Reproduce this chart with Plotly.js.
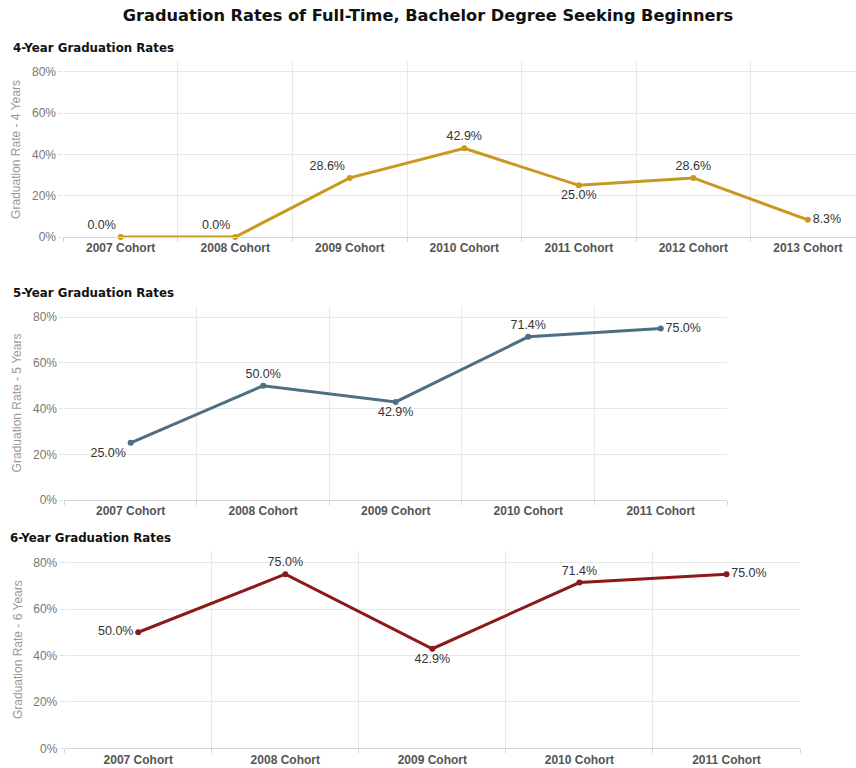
<!DOCTYPE html>
<html>
<head>
<meta charset="utf-8">
<script src="https://cdn.plot.ly/plotly-3.0.1.min.js"></script>
<style>html,body{margin:0;padding:0;background:#fff;}#chart{width:856px;height:768px;}</style>
</head>
<body>
<div id="chart"></div>
<script>
// ---- data ----
var cohorts4 = ["2007 Cohort","2008 Cohort","2009 Cohort","2010 Cohort","2011 Cohort","2012 Cohort","2013 Cohort"];
var rates4 = [0.0, 0.0, 28.6, 42.9, 25.0, 28.6, 8.3];
var cohorts5 = ["2007 Cohort","2008 Cohort","2009 Cohort","2010 Cohort","2011 Cohort"];
var rates5 = [25.0, 50.0, 42.9, 71.4, 75.0];
var cohorts6 = ["2007 Cohort","2008 Cohort","2009 Cohort","2010 Cohort","2011 Cohort"];
var rates6 = [50.0, 75.0, 42.9, 71.4, 75.0];
var yTickVals = [0, 20, 40, 60, 80];
var yTickText = ["0%", "20%", "40%", "60%", "80%"];

// ---- styles ----
var pos4 = ["top left","top left","top left","top center","bottom center","top center","middle right"];
var pos5 = ["bottom left","top center","bottom center","top center","middle right"];
var pos6 = ["middle left","top center","bottom center","top center","middle right"];

function fmt(arr){ return arr.map(function(v){ return v.toFixed(1) + "%"; }); }

function trace(x, y, color, pos, xa, ya){
  return {
    x: x, y: y, xaxis: xa, yaxis: ya,
    type: "scatter", mode: "lines+markers+text",
    line: {color: color, width: 3},
    marker: {color: color, size: 6},
    text: fmt(y), textposition: pos,
    textfont: {family: "Liberation Sans, Arial, sans-serif", size: 12.5, color: "#333"},
    cliponaxis: false, hoverinfo: "skip", showlegend: false
  };
}

var data = [
  trace(cohorts4, rates4, "#c9981f", pos4, "x", "y"),
  trace(cohorts5, rates5, "#4e6f82", pos5, "x2", "y2"),
  trace(cohorts6, rates6, "#8b1a1a", pos6, "x3", "y3")
];

var W = 856, H = 768;
function xax(l, r, n, anchor){
  return {
    type: "category", domain: [l/W, r/W], anchor: anchor,
    range: [-0.5, n], tickson: "boundaries",
    showgrid: true, gridcolor: "#e8e8e8", gridwidth: 1,
    ticks: "outside", ticklen: 4, tickcolor: "#d6d6d6",
    showline: true, linecolor: "#d6d6d6", linewidth: 1,
    tickfont: {family: "Liberation Sans, Arial, sans-serif", size: 12, color: "#555", weight: "bold"},
    zeroline: false, fixedrange: true
  };
}
function yax(top, bot, rmax, anchor, title){
  return {
    domain: [1 - bot/H, 1 - top/H], anchor: anchor,
    range: [0, rmax], tickvals: yTickVals, ticktext: yTickText,
    showgrid: true, gridcolor: "#e8e8e8", gridwidth: 1,
    ticks: "outside", ticklen: 4, tickcolor: "#e0e0e0",
    showline: false, zeroline: false,
    tickfont: {family: "Liberation Sans, Arial, sans-serif", size: 12, color: "#777"},
    title: {text: title, font: {family: "Liberation Sans, Arial, sans-serif", size: 12, color: "#999"}, standoff: 8},
    fixedrange: true
  };
}

var layout = {
  width: W, height: H,
  margin: {l: 0, r: 0, t: 0, b: 0},
  paper_bgcolor: "#fff", plot_bgcolor: "#fff",
  title: {text: "Graduation Rates of Full-Time, Bachelor Degree Seeking Beginners",
          font: {family: "DejaVu Sans, sans-serif", size: 16.2, color: "#111", weight: "bold"},
          x: 0.5, xanchor: "center", y: 1 - 15/H, yanchor: "middle", yref: "paper"},
  xaxis: xax(63.4, 856, 6.42, "y"),
  yaxis: yax(62, 237, 84.7, "x", "Graduation Rate - 4 Years"),
  xaxis2: xax(64.4, 727, 4.5, "y2"),
  yaxis2: yax(306, 500, 84.9, "x2", "Graduation Rate - 5 Years"),
  xaxis3: xax(64.7, 800, 4.5, "y3"),
  yaxis3: yax(551, 748.3, 85, "x3", "Graduation Rate - 6 Years"),
  annotations: [
    {text: "4-Year Graduation Rates", x: 11/W, y: 1 - 48/H},
    {text: "5-Year Graduation Rates", x: 11/W, y: 1 - 293/H},
    {text: "6-Year Graduation Rates", x: 8/W, y: 1 - 538/H}
  ].map(function(a){
    a.xref = "paper"; a.yref = "paper"; a.xanchor = "left"; a.yanchor = "middle"; a.showarrow = false;
    a.font = {family: "DejaVu Sans, sans-serif", size: 11.8, color: "#111", weight: "bold"};
    return a;
  })
};

Plotly.newPlot("chart", data, layout, {displayModeBar: false, staticPlot: true});
</script>
</body>
</html>
